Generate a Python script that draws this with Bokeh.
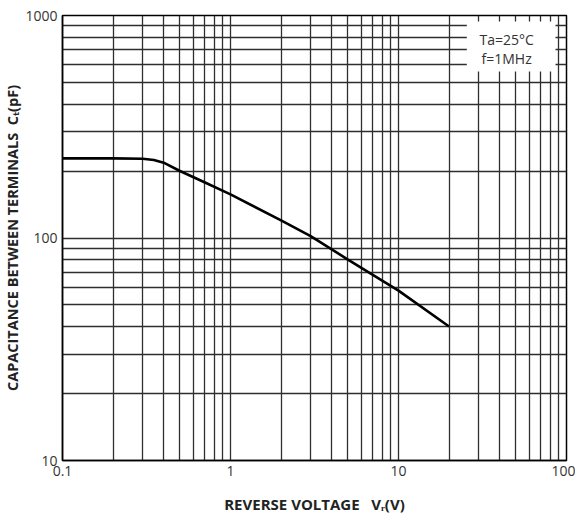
from bokeh.plotting import figure
from bokeh.models import FixedTicker, Label, BoxAnnotation
from bokeh.embed import file_html
from bokeh.resources import INLINE

# ---- data ----
voltage = [0.1, 0.2, 0.3, 0.35, 0.4, 0.5, 0.7, 1, 2, 3, 5, 10, 20]
capacitance = [228, 228, 227, 224, 218, 200, 178, 157, 120, 102, 80, 58, 40]

x_major = [0.1, 1, 10, 100]
y_major = [10, 100, 1000]
x_tick_labels = {0.1: "0.1", 1: "1", 10: "10", 100: "100"}
y_tick_labels = {10: "10", 100: "100", 1000: "1000"}
NB = "\u00a0"
x_title = "REVERSE VOLTAGE" + NB * 3 + "V\u1d63(V)"
y_title = "CAPACITANCE BETWEEN TERMINALS" + NB * 2 + "C\u209c(pF)"
cond1 = "Ta=25°C"
cond2 = "f=1MHz"

def minors(majors):
    out = []
    for m in majors[:-1]:
        for k in range(2, 10):
            out.append(m * k)
    return out

FONT = "Open Sans"
GRID = "#2e2e2e"
TC = "#222222"

p = figure(width=575, height=516, x_axis_type="log", y_axis_type="log",
           x_range=(0.1, 100), y_range=(10, 1000),
           output_backend="svg", toolbar_location=None,
           min_border_left=61, min_border_right=9, min_border_top=15, min_border_bottom=54)
p.background_fill_color = "white"
p.border_fill_color = "white"
p.outline_line_color = "black"
p.outline_line_width = 1.5

for ax, majors, labels in ((p.xaxis[0], x_major, x_tick_labels), (p.yaxis[0], y_major, y_tick_labels)):
    ax.ticker = FixedTicker(ticks=majors, minor_ticks=minors(majors))
    ax.major_label_overrides = labels
    ax.major_tick_in = 0
    ax.major_tick_out = 0
    ax.minor_tick_in = 0
    ax.minor_tick_out = 0
    ax.axis_line_color = "black"
    ax.axis_line_width = 1.5
    ax.major_label_text_font = FONT
    ax.major_label_text_font_size = "14px"
    ax.major_label_text_color = "#333333"
    ax.axis_label_text_font = FONT
    ax.axis_label_text_font_style = "bold"
    ax.axis_label_text_color = TC
p.xaxis.axis_label_text_font_size = "15px"
p.yaxis.axis_label_text_font_size = "14.5px"
p.xaxis.major_label_standoff = 5
p.yaxis.major_label_standoff = 5
p.xaxis.axis_label = x_title
p.yaxis.axis_label = y_title
p.xaxis.axis_label_standoff = 15
p.yaxis.axis_label_standoff = 0

p.xgrid.ticker = FixedTicker(ticks=x_major, minor_ticks=minors(x_major))
p.ygrid.ticker = FixedTicker(ticks=y_major, minor_ticks=minors(y_major))
for g in (p.xgrid[0], p.ygrid[0]):
    g.grid_line_color = GRID
    g.grid_line_width = 1.3
    g.minor_grid_line_color = GRID
    g.minor_grid_line_width = 1.3

p.line(voltage, capacitance, line_color="black", line_width=2.6)

# condition box
p.add_layout(BoxAnnotation(left=25.5, right=86, bottom=560, top=940,
                           fill_color="white", fill_alpha=1.0, line_alpha=0, level="overlay"))
p.add_layout(Label(x=44, y=780, text=cond1, text_align="center", text_baseline="middle",
                   text_font=FONT, text_font_size="14px", text_color="#333333", level="overlay"))
p.add_layout(Label(x=44, y=641, text=cond2, text_align="center", text_baseline="middle",
                   text_font=FONT, text_font_size="14px", text_color="#333333", level="overlay"))

open("out.html", "w").write(file_html(p, INLINE))
